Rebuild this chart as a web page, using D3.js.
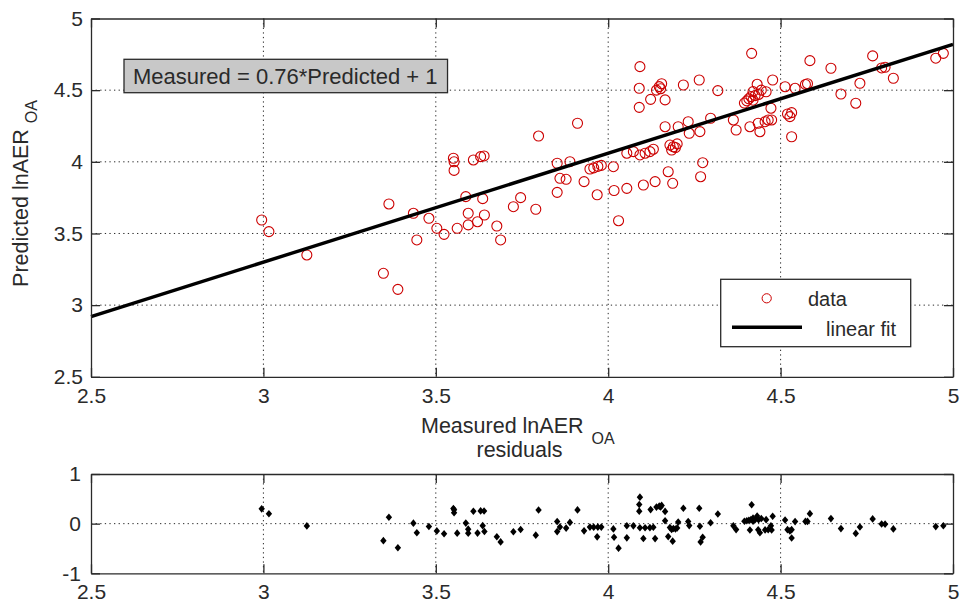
<!DOCTYPE html>
<html>
<head>
<meta charset="utf-8">
<script src="https://cdn.jsdelivr.net/npm/d3@7"></script>
<style>
  html, body { margin: 0; padding: 0; background: #fff; }
  svg { display: block; font-family: "Liberation Sans", Arial, Helvetica, sans-serif; }
</style>
</head>
<body>
<svg id="chart" width="964" height="604"></svg>
<script>
// Measured vs predicted lnAER_OA for each observation
const measured = [
  2.995, 3.016, 3.126, 3.348, 3.364, 3.390, 3.435, 3.445, 3.480, 3.503,
  3.524, 3.551, 3.553, 3.553, 3.562, 3.587, 3.594, 3.594, 3.609, 3.621,
  3.630, 3.640, 3.636, 3.641, 3.677, 3.688, 3.725, 3.746, 3.790, 3.798,
  3.852, 3.860, 3.878, 3.852, 3.889, 3.911, 3.930, 3.947, 3.958, 3.970,
  3.980, 3.968, 4.015, 4.017, 4.054, 4.030, 4.054, 4.073, 4.092, 4.107,
  4.121, 4.131, 4.092, 4.090, 4.090, 4.102, 4.123, 4.136, 4.140, 4.148,
  4.155, 4.152, 4.165, 4.165, 4.174, 4.187, 4.179, 4.189, 4.184, 4.195,
  4.200, 4.203, 4.218, 4.232, 4.235, 4.264, 4.266, 4.274, 4.268, 4.297,
  4.318, 4.363, 4.371, 4.411, 4.435, 4.440, 4.455, 4.464, 4.474, 4.416,
  4.395, 4.402, 4.408, 4.414, 4.420, 4.426, 4.436, 4.444, 4.432, 4.420,
  4.458, 4.477, 4.472, 4.513, 4.520, 4.532, 4.527, 4.532, 4.542, 4.572,
  4.578, 4.585, 4.646, 4.675, 4.718, 4.730, 4.767, 4.793, 4.803, 4.827,
  4.950, 4.972
];
const predicted = [
  3.594, 3.513, 3.350, 3.222, 3.706, 3.110, 3.641, 3.455, 3.606, 3.536,
  3.494, 4.025, 4.000, 3.940, 3.536, 3.757, 3.641, 3.560, 4.013, 3.582,
  4.036, 4.041, 3.743, 3.629, 3.552, 3.455, 3.687, 3.750, 3.669, 4.180,
  3.990, 3.885, 3.878, 3.787, 4.001, 4.269, 3.862, 3.950, 3.958, 3.968,
  3.975, 3.770, 3.966, 3.800, 3.815, 3.589, 4.060, 4.071, 4.048, 4.060,
  4.071, 4.088, 4.664, 4.513, 4.380, 3.838, 4.436, 3.862, 4.500, 4.525,
  4.545, 4.510, 4.432, 4.245, 3.931, 3.850, 4.117, 4.105, 4.082, 4.100,
  4.125, 4.245, 4.536, 4.280, 4.199, 4.571, 4.211, 3.994, 3.896, 4.304,
  4.497, 4.292, 4.222, 4.245, 4.269, 4.210, 4.280, 4.292, 4.292, 4.757,
  4.410, 4.425, 4.440, 4.455, 4.430, 4.462, 4.470, 4.500, 4.541, 4.490,
  4.489, 4.571, 4.374, 4.524, 4.334, 4.343, 4.315, 4.175, 4.513, 4.540,
  4.545, 4.706, 4.653, 4.473, 4.409, 4.548, 4.739, 4.655, 4.660, 4.583,
  4.723, 4.757
];

// Linear fit coefficients (Predicted vs Measured)
const fitSlope = 0.76;
const fitIntercept = 1.02;
const fitLabel = "Measured = 0.76*Predicted + 1";

// Tick values
const xTicks = [2.5, 3, 3.5, 4, 4.5, 5];
const yTicks = [2.5, 3, 3.5, 4, 4.5, 5];
const resTicks = [-1, 0, 1];
const xGrid = [3, 3.5, 4, 4.5];
const yGrid = [3, 3.5, 4, 4.5];
const resGrid = [0];

const legendItems = ["data", "linear fit"];

const svg = d3.select("#chart");
const ink = "#2a2a2a";
const red = "#cc0000";

// ---------- main panel ----------
const main = { left: 91, right: 953, top: 18.5, bottom: 376.8 };
const x = d3.scaleLinear().domain([2.5, 5]).range([main.left, main.right]);
const y = d3.scaleLinear().domain([2.5, 5]).range([main.bottom, main.top]);

// ---------- residual panel ----------
const resP = { top: 474, bottom: 573.3 };
const yr = d3.scaleLinear().domain([-1, 1]).range([resP.bottom, resP.top]);

const fmt = d => String(d);

function drawGrid(g, xs, ys, yScale, top, bottom) {
  g.selectAll("line.gx").data(xs).join("line")
    .attr("x1", d => x(d)).attr("x2", d => x(d))
    .attr("y1", top).attr("y2", bottom)
    .attr("stroke", ink).attr("stroke-width", 1)
    .attr("stroke-dasharray", "1.3,3.3");
  g.selectAll("line.gy").data(ys).join(enter => enter.append("line"))
    .attr("x1", main.left).attr("x2", main.right)
    .attr("y1", d => yScale(d)).attr("y2", d => yScale(d))
    .attr("stroke", ink).attr("stroke-width", 1)
    .attr("stroke-dasharray", "1.3,3.3");
}

function drawFrame(yScale, yT, top, bottom, labelPadX) {
  const tick = 9;
  const fontSize = 21;
  const gB = svg.append("g").attr("transform", `translate(0,${bottom})`)
    .call(d3.axisBottom(x).tickValues(xTicks).tickFormat(fmt).tickSizeInner(-tick).tickSizeOuter(0).tickPadding(11));
  const gT = svg.append("g").attr("transform", `translate(0,${top})`)
    .call(d3.axisTop(x).tickValues(xTicks).tickFormat("").tickSizeInner(-tick).tickSizeOuter(0));
  const gL = svg.append("g").attr("transform", `translate(${main.left},0)`)
    .call(d3.axisLeft(yScale).tickValues(yT).tickFormat(fmt).tickSizeInner(-tick).tickSizeOuter(0).tickPadding(labelPadX));
  const gR = svg.append("g").attr("transform", `translate(${main.right},0)`)
    .call(d3.axisRight(yScale).tickValues(yT).tickFormat("").tickSizeInner(-tick).tickSizeOuter(0));
  [gB, gT, gL, gR].forEach(g => {
    g.select(".domain").attr("stroke", ink).attr("stroke-width", 1.3);
    g.selectAll(".tick line").attr("stroke", ink).attr("stroke-width", 1.3);
    g.selectAll(".tick text").attr("fill", ink).attr("font-size", fontSize)
      .attr("font-family", '"Liberation Sans", Arial, sans-serif');
  });
}

// grid behind everything
const gridMain = svg.append("g");
drawGrid(gridMain, xGrid, yGrid, y, main.top, main.bottom);
const gridRes = svg.append("g");
drawGrid(gridRes, xGrid, resGrid, yr, resP.top, resP.bottom);

const points = measured.map((m, i) => ({ m, p: predicted[i] }));

// data circles
svg.append("g").selectAll("circle").data(points).join("circle")
  .attr("cx", d => x(d.m)).attr("cy", d => y(d.p)).attr("r", 5)
  .attr("fill", "none").attr("stroke", red).attr("stroke-width", 1.1);

// fitted line across the full x range
const fitLine = d3.line().x(d => x(d)).y(d => y(fitSlope * d + fitIntercept));
svg.append("path").datum(x.domain())
  .attr("d", fitLine)
  .attr("fill", "none").attr("stroke", "#000").attr("stroke-width", 3.4);

// equation box
const eqG = svg.append("g");
const eqRect = eqG.append("rect");
const eqText = eqG.append("text")
  .attr("x", 133).attr("y", 83.5)
  .attr("font-size", 22).attr("fill", ink)
  .text(fitLabel);
const eqW = eqText.node().getComputedTextLength();
eqRect.attr("x", 124).attr("y", 59.3).attr("width", eqW + 19).attr("height", 33.4)
  .attr("fill", "#c8c8c8").attr("stroke", ink).attr("stroke-width", 1.3);

// legend
const lg = svg.append("g");
lg.append("rect").attr("x", 720.7).attr("y", 279.3).attr("width", 190).attr("height", 67.4)
  .attr("fill", "#fff").attr("stroke", ink).attr("stroke-width", 1.3);
lg.append("circle").attr("cx", 766.7).attr("cy", 298.3).attr("r", 4.6)
  .attr("fill", "none").attr("stroke", red).attr("stroke-width", 1);
lg.append("text").attr("x", 808).attr("y", 306).attr("font-size", 20).attr("fill", ink).text(legendItems[0]);
lg.append("line").attr("x1", 732).attr("x2", 802).attr("y1", 327.3).attr("y2", 327.3)
  .attr("stroke", "#000").attr("stroke-width", 3.4);
lg.append("text").attr("x", 826).attr("y", 336).attr("font-size", 20).attr("fill", ink).text(legendItems[1]);

drawFrame(y, yTicks, main.top, main.bottom, 8);

// axis labels
const xl = svg.append("text").attr("x", 421).attr("y", 433)
  .attr("font-size", 21.5).attr("fill", ink);
xl.append("tspan").text("Measured lnAER");
xl.append("tspan").attr("dx", 8).attr("dy", 11).attr("font-size", 16).text("OA");
svg.append("text").attr("x", 519.5).attr("y", 457).attr("text-anchor", "middle")
  .attr("font-size", 21.5).attr("fill", ink).text("residuals");

const yl = svg.append("text").attr("transform", "translate(28,100) rotate(-90)")
  .attr("text-anchor", "end").attr("font-size", 21.5).attr("fill", ink);
yl.append("tspan").text("Predicted lnAER");
yl.append("tspan").attr("dx", 6).attr("dy", 9).attr("font-size", 16).text("OA");

// ---------- residuals ----------
const residuals = points.map(d => ({ m: d.m, r: d.p - (fitSlope * d.m + fitIntercept) }));
const diamond = "M0,-3.8L3.2,0L0,3.8L-3.2,0Z";
svg.append("g").selectAll("path").data(residuals).join("path")
  .attr("transform", d => `translate(${x(d.m)},${yr(d.r)})`)
  .attr("d", diamond).attr("fill", "#000");

drawFrame(yr, resTicks, resP.top, resP.bottom, 10);
</script>
</body>
</html>
